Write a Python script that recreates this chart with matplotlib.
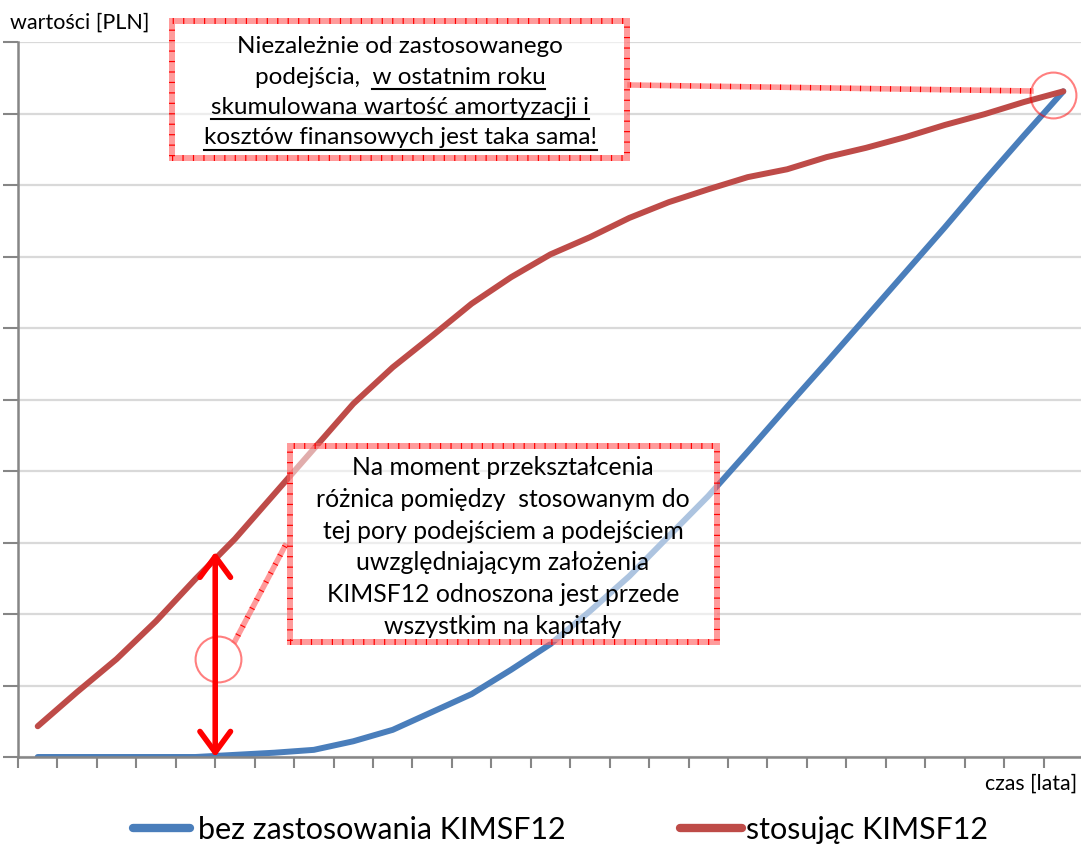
import numpy as np
import matplotlib
matplotlib.use('Agg')
import matplotlib.pyplot as plt
from matplotlib.patches import Rectangle
from matplotlib.lines import Line2D

# dane (jednostki umowne, os Y 0-10)
years = np.arange(27) + 0.5
bez_kimsf = [0, 0, 0, 0, 0, 0.03, 0.06, 0.10, 0.22, 0.38, 0.63, 0.88, 1.22, 1.58,
             2.04, 2.53, 3.09, 3.65, 4.27, 4.90, 5.52, 6.15, 6.78, 7.41, 8.06, 8.69, 9.31]
z_kimsf = [0.43, 0.91, 1.37, 1.90, 2.49, 3.05, 3.68, 4.31, 4.94, 5.45, 5.89, 6.34, 6.71, 7.03,
           7.27, 7.54, 7.76, 7.94, 8.11, 8.22, 8.39, 8.52, 8.67, 8.84, 8.99, 9.16, 9.31]
labels = ['bez zastosowania KIMSF12', 'stosując KIMSF12']
colors = ['#4A7EBB', '#BE4B48']
x_transition = 5.0

box1_lines = ['Niezależnie od zastosowanego',
              'podejścia,  w ostatnim roku',
              'skumulowana wartość amortyzacji i',
              'kosztów finansowych jest taka sama!']
box1_underline = ['', 'w ostatnim roku', 'skumulowana wartość amortyzacji i',
                  'kosztów finansowych jest taka sama!']
box2_lines = ['Na moment przekształcenia',
              'różnica pomiędzy  stosowanym do',
              'tej pory podejściem a podejściem',
              'uwzględniającym założenia',
              'KIMSF12 odnoszona jest przede',
              'wszystkim na kapitały']

FONT = 'Lato'
W, H = 1081, 845
fig = plt.figure(figsize=(W / 100, H / 100), dpi=100)

def fx(x):
    return x / W

def fy(y):
    return 1 - y / H

ax = fig.add_axes([fx(18), fy(758), (1083 - 18) / W, (758 - 43) / H])
ax.plot(years, bez_kimsf, color=colors[0], lw=4.3, solid_capstyle='round', solid_joinstyle='round')
ax.plot(years, z_kimsf, color=colors[1], lw=4.3, solid_capstyle='round', solid_joinstyle='round')
ax.set_xlim(0, 27)
ax.set_ylim(0, 10)
ax.set_xticks(np.arange(28))
ax.set_yticks(np.arange(11))
ax.tick_params(axis='x', direction='out', length=8, width=1.5, color='#868686', labelbottom=False)
ax.tick_params(axis='y', direction='out', length=11, width=1.5, color='#868686', labelleft=False)
ax.yaxis.grid(True, color='#D9D9D9', lw=1.6)
ax.set_axisbelow(True)
for s in ['top', 'right']:
    ax.spines[s].set_visible(False)
for s in ['left', 'bottom']:
    ax.spines[s].set_color('#868686')
    ax.spines[s].set_linewidth(1.8)

# strzalka roznicy w momencie przeksztalcenia
y_top = np.interp(x_transition, years, z_kimsf) + 0.1
ax.annotate('', xy=(x_transition, 0), xytext=(x_transition, y_top),
            arrowprops=dict(arrowstyle='<->,head_length=0.75,head_width=0.55', color='red',
                            lw=4, mutation_scale=20, shrinkA=0, shrinkB=0))

# kolka wskazujace
ax.plot([x_transition + 0.07], [1.37], 'o', ms=33, mfc='none', mec=(1, 0, 0, 0.5), mew=1.5, clip_on=False)
ax.plot([years[-1] - 0.25], [z_kimsf[-1] - 0.05], 'o', ms=33, mfc='none', mec=(1, 0, 0, 0.5), mew=1.5,
        clip_on=False)

band = (1, 0.35, 0.35, 0.6)

def hatched_line(xs, ys):
    xs = [fx(v) for v in xs]
    ys = [fy(v) for v in ys]
    fig.add_artist(Line2D(xs, ys, transform=fig.transFigure, color=band, lw=4, zorder=3))
    fig.add_artist(Line2D(xs, ys, transform=fig.transFigure, color='red', lw=4,
                          ls=(0, (0.2, 1.6)), zorder=3))

def hatched_box(x0, y0, x1, y1):
    kw = dict(transform=fig.transFigure)
    fig.add_artist(Rectangle((fx(x0), fy(y1)), fx(x1 - x0), (y1 - y0) / H,
                             facecolor=(1, 1, 1, 0.55), edgecolor='none', zorder=2, **kw))
    fig.add_artist(Rectangle((fx(x0), fy(y1)), fx(x1 - x0), (y1 - y0) / H, fill=False,
                             edgecolor=band, lw=4.3, zorder=3, **kw))
    fig.add_artist(Rectangle((fx(x0), fy(y1)), fx(x1 - x0), (y1 - y0) / H, fill=False,
                             edgecolor='red', lw=4.3, ls=(0, (0.2, 1.55)), zorder=3, **kw))

hatched_line([630, 1031], [86, 92])
hatched_line([285, 235], [547, 642])
hatched_box(172, 22, 627, 159)
hatched_box(290, 447, 717, 643)

renderer = fig.canvas.get_renderer()

def text_line(x, y, s, size, underline=''):
    t = fig.text(fx(x), fy(y), s, ha='center', va='baseline', fontsize=size, family=FONT, zorder=4)
    if underline:
        bb = t.get_window_extent(renderer)
        tmp = fig.text(0, 0, underline, fontsize=size, family=FONT)
        w = tmp.get_window_extent(renderer).width
        tmp.remove()
        fig.add_artist(Line2D([(bb.x1 - w) / W, bb.x1 / W], [fy(y + 6), fy(y + 6)],
                              transform=fig.transFigure, color='black', lw=1.5, zorder=4))

for i, (s, u) in enumerate(zip(box1_lines, box1_underline)):
    text_line(400, 53 + i * 30.5, s, 17.5, u)
for i, s in enumerate(box2_lines):
    text_line(503, 475 + i * 31.8, s, 17.8)

fig.text(fx(10), fy(29), 'wartości [PLN]', fontsize=15.5, family=FONT, va='baseline')
fig.text(fx(1077), fy(790), 'czas [lata]', fontsize=15.3, family=FONT, va='baseline', ha='right')

# legenda
leg_pos = [(133, 190, 198), (680, 742, 746)]
for (a, b, t), lab, c in zip(leg_pos, labels, colors):
    fig.add_artist(Line2D([fx(a), fx(b)], [fy(829), fy(829)], transform=fig.transFigure,
                          color=c, lw=6, solid_capstyle='round'))
    fig.text(fx(t), fy(839), lab, fontsize=22, family=FONT, va='baseline')

fig.savefig('out.png', dpi=100)
